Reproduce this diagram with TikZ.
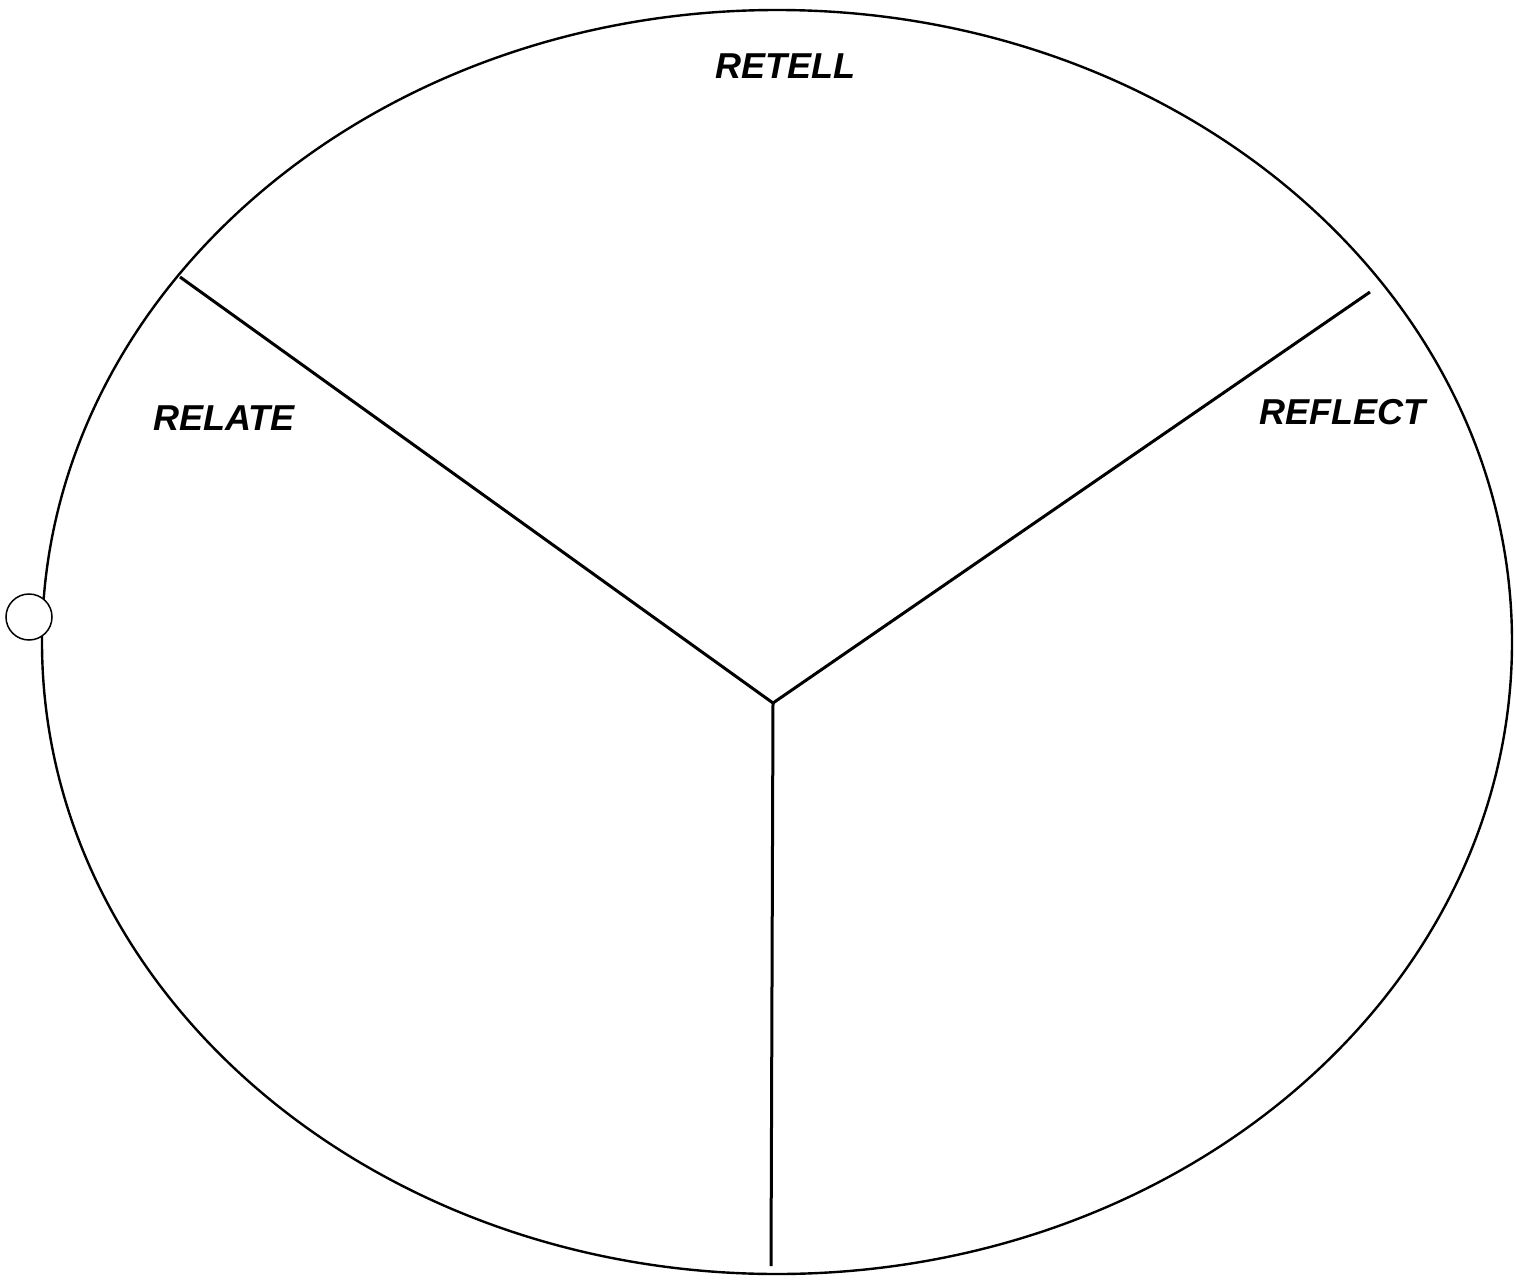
\documentclass[tikz,border=0pt]{standalone}
\usepackage{fontspec}
\setmainfont{Liberation Sans}
\begin{document}
\begin{tikzpicture}[x=1pt,y=-1pt,
  outline/.style={line width=2.4pt},
  divider/.style={line width=3pt},
  lbl/.style={font=\fontsize{36}{40}\selectfont\bfseries\itshape, inner sep=0pt}]
\useasboundingbox (0,0) rectangle (1516,1285);
\fill[white] (0,0) rectangle (1516,1285);
\draw[outline] (777,642) ellipse [x radius=735, y radius=632];
\coordinate (hub) at (773,703);
\coordinate (nw) at (180,277);
\coordinate (ne) at (1370,292);
\coordinate (s) at (771,1266);
\draw[divider] (nw) -- (hub);
\draw[divider] (ne) -- (hub);
\draw[divider] (hub) -- (s);
\node[lbl] (retell) at (785,66) {RETELL};
\node[lbl] (relate) at (224,418) {RELATE};
\node[lbl] (reflect) at (1342,412) {REFLECT};
\draw[line width=1.5pt, fill=white] (29,617) circle [radius=23];
\end{tikzpicture}
\end{document}
